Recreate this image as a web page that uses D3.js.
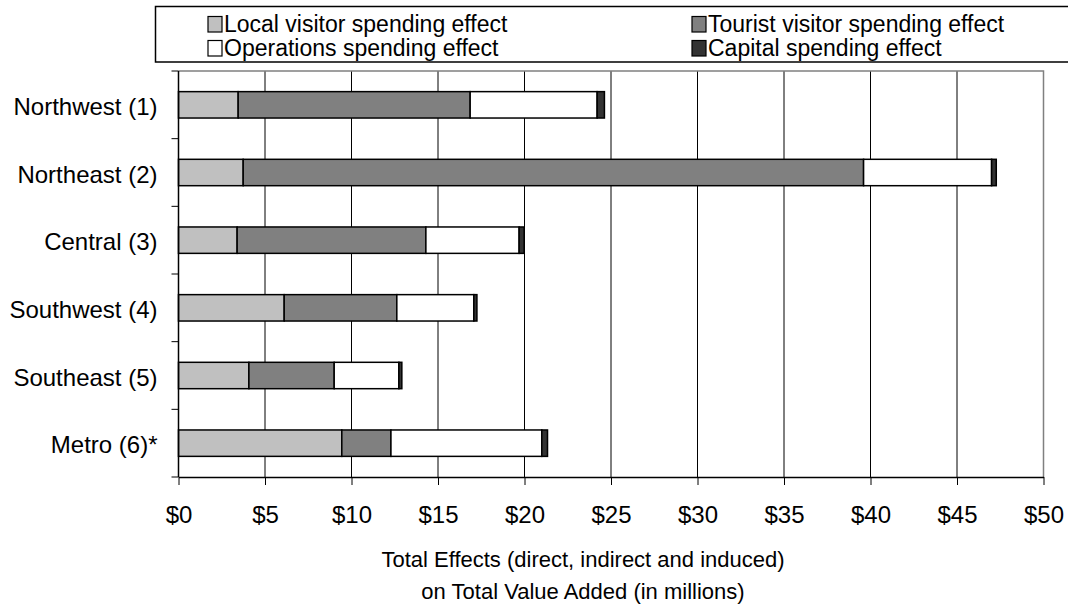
<!DOCTYPE html>
<html>
<head>
<meta charset="utf-8">
<script src="https://cdn.jsdelivr.net/npm/d3@7"></script>
<style>
  html, body { margin: 0; padding: 0; background: #fff; }
  svg { display: block; font-family: "Liberation Sans", Arial, sans-serif; }
</style>
</head>
<body>
<svg id="chart" width="1068" height="607"></svg>
<script>
// Regions (top to bottom)
const regions = ["Northwest (1)", "Northeast (2)", "Central (3)", "Southwest (4)", "Southeast (5)", "Metro (6)*"];

// Effect components, $ millions, one value per region
const localVisitor   = [3.45, 3.74, 3.39, 6.11, 4.07, 9.44];
const touristVisitor = [13.41, 35.86, 10.91, 6.51, 4.93, 2.84];
const operations     = [7.34, 7.40, 5.39, 4.45, 3.74, 8.72];
const capital        = [0.42, 0.27, 0.29, 0.18, 0.17, 0.33];

const seriesNames = ["Local visitor spending effect", "Tourist visitor spending effect",
                     "Operations spending effect", "Capital spending effect"];
const seriesColors = ["#c0c0c0", "#808080", "#ffffff", "#333333"];

const xTicks = [0, 5, 10, 15, 20, 25, 30, 35, 40, 45, 50];
const xTitle = ["Total Effects (direct, indirect and induced)", "on Total Value Added (in millions)"];

const rows = regions.map((r, i) => ({
  region: r,
  [seriesNames[0]]: localVisitor[i],
  [seriesNames[1]]: touristVisitor[i],
  [seriesNames[2]]: operations[i],
  [seriesNames[3]]: capital[i]
}));

const svg = d3.select("#chart");
const plot = { left: 178.5, right: 1043.5, top: 71, bottom: 477 };
const FONT = 24;

const x = d3.scaleLinear().domain([0, 50]).range([plot.left, plot.right]);
const y = d3.scaleBand().domain(regions).range([plot.top, plot.bottom])
  .paddingInner(0.61).paddingOuter(0.305);
const step = y.step();

// Vertical gridlines
svg.append("g").selectAll("line").data(xTicks.slice(1, -1)).join("line")
  .attr("x1", d => x(d)).attr("x2", d => x(d))
  .attr("y1", plot.top).attr("y2", plot.bottom)
  .attr("stroke", "#000").attr("stroke-width", 1);

// Plot frame: top and right edges
svg.append("path")
  .attr("d", `M${plot.left},${plot.top}H${plot.right}V${plot.bottom}`)
  .attr("fill", "none").attr("stroke", "#808080").attr("stroke-width", 1.5);

// Stacked bars
const stack = d3.stack().keys(seriesNames)(rows);
const color = d3.scaleOrdinal().domain(seriesNames).range(seriesColors);
svg.append("g").selectAll("g").data(stack).join("g")
  .attr("fill", d => color(d.key))
  .selectAll("rect").data(d => d).join("rect")
  .attr("x", d => x(d[0]))
  .attr("width", d => x(d[1]) - x(d[0]))
  .attr("y", d => y(d.data.region))
  .attr("height", y.bandwidth())
  .attr("stroke", "#000").attr("stroke-width", 1.5);

// Left axis: labels centred on bars, ticks between categories
const yAxis = svg.append("g").attr("transform", `translate(${plot.left},0)`)
  .call(d3.axisLeft(y).tickSize(0).tickPadding(21));
yAxis.select(".domain").remove();
yAxis.selectAll("text").attr("font-size", FONT).attr("font-family", "Liberation Sans, Arial, sans-serif")
  .attr("fill", "#000").attr("dy", "0.42em");
const bounds = d3.range(regions.length + 1).map(i => plot.top + i * step);
svg.append("g").selectAll("line").data(bounds).join("line")
  .attr("x1", plot.left - 7).attr("x2", plot.left)
  .attr("y1", d => d).attr("y2", d => d)
  .attr("stroke", "#000").attr("stroke-width", 1);
svg.append("line")
  .attr("x1", plot.left).attr("x2", plot.left)
  .attr("y1", plot.top).attr("y2", plot.bottom)
  .attr("stroke", "#000").attr("stroke-width", 1.5);

// Bottom axis
const xAxis = svg.append("g").attr("transform", `translate(0,${plot.bottom})`)
  .call(d3.axisBottom(x).tickValues(xTicks).tickFormat(d => "$" + d)
    .tickSizeInner(8).tickSizeOuter(0).tickPadding(21));
xAxis.select(".domain").attr("stroke-width", 1.5);
xAxis.selectAll(".tick line").attr("stroke", "#000");
xAxis.selectAll("text").attr("font-size", FONT).attr("font-family", "Liberation Sans, Arial, sans-serif")
  .attr("fill", "#000");

// Axis title
svg.append("g").selectAll("text").data(xTitle).join("text")
  .attr("x", 583)
  .attr("y", (d, i) => 566.5 + i * 32.5)
  .attr("text-anchor", "middle")
  .attr("font-size", 22)
  .text(d => d);

// Legend
const legend = svg.append("g");
legend.append("path")
  .attr("d", "M1068,6.5H155.5V62H1068")
  .attr("fill", "none").attr("stroke", "#000").attr("stroke-width", 1.5);

const legendPos = [
  { x: 208, y: 16.5 }, { x: 692, y: 16.5 },
  { x: 208, y: 40.5 }, { x: 692, y: 40.5 }
];
const items = legend.selectAll("g.item").data(seriesNames).join("g")
  .attr("class", "item")
  .attr("transform", (d, i) => `translate(${legendPos[i].x},${legendPos[i].y})`);
items.append("rect").attr("width", 14).attr("height", 15.5)
  .attr("fill", d => color(d)).attr("stroke", "#000").attr("stroke-width", 1.2);
items.append("text").attr("x", 16).attr("y", 15.5)
  .attr("font-size", 23).text(d => d);
</script>
</body>
</html>
